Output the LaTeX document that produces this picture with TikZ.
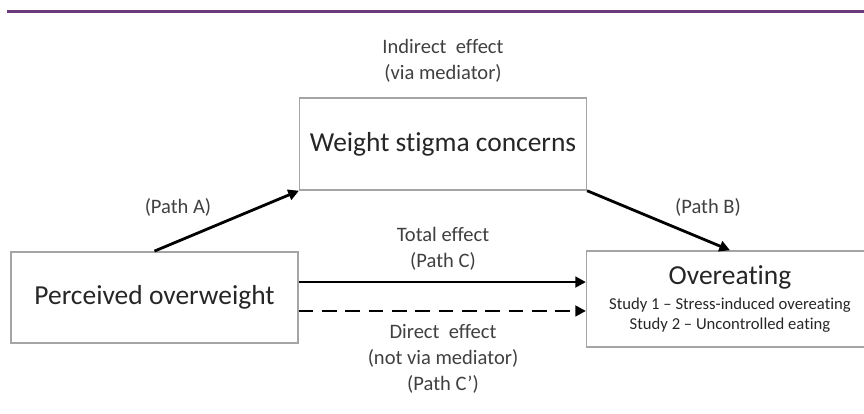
\documentclass[tikz,border=0pt]{standalone}
\usepackage{fontspec}
\setmainfont{Carlito}[Ligatures=NoCommon]
\usetikzlibrary{arrows.meta,positioning,calc}
\definecolor{banner}{RGB}{107,58,122}
\definecolor{boxline}{RGB}{165,165,165}
\definecolor{labeltext}{RGB}{64,64,64}
\tikzset{
  varbox/.style={draw=boxline, line width=1.1pt, minimum width=215pt, minimum height=68.5pt, inner sep=0pt, align=center, text=black!85, font=\fontsize{20.6}{24}\selectfont},
  effarrow/.style={-{Triangle[length=8pt, width=8pt]}, line width=2.1pt, black},
  efflabel/.style={align=center, text=labeltext, font=\fontsize{15.4}{19.5}\selectfont},
}
\newcommand{\studyfont}{\fontsize{12.5}{15}\selectfont}

\begin{document}
\begin{tikzpicture}[x=0.75pt, y=-0.75pt]
\useasboundingbox (0,0) rectangle (864,414);
% top rule
\draw[banner, line width=2.25pt] (7,11) coordinate (ruleL) -- (864,11) coordinate (ruleR);
% variables
\node[varbox] (percv) at (154.5,297.5) {Perceived overweight};
\node[varbox, minimum height=69pt] (stigma) at (443,144) {Weight stigma concerns};
\node[varbox, minimum height=72pt] (overeat) at (730,299) {Overeating\\[-5pt]
  {\studyfont Study 1 -- Stress-induced overeating}\\[-9pt]
  {\studyfont Study 2 -- Uncontrolled eating}};
% paths
\draw[effarrow] (percv.north) -- (stigma.south west);
\draw[effarrow] (stigma.south east) -- (overeat.north);
\draw[effarrow] ([yshift=11.6pt]percv.east) coordinate (totS) -- (totS -| overeat.west);
\draw[effarrow, dash pattern=on 11pt off 6.5pt] ([yshift=-10.1pt]percv.east) coordinate (dirS) -- (dirS -| overeat.west);
% labels
\node[efflabel] (indlab) at (443,61) {Indirect\ \ effect\\(via mediator)};
\node[efflabel] (alab) at (178,207) {(Path A)};
\node[efflabel] (blab) at (708,207) {(Path B)};
\node[efflabel] (totlab) at (443,249) {Total effect\\(Path C)};
\node[efflabel] (dirlab) at (443,359) {Direct\ \ effect\\(not via mediator)\\(Path C’)};
\end{tikzpicture}
\end{document}
